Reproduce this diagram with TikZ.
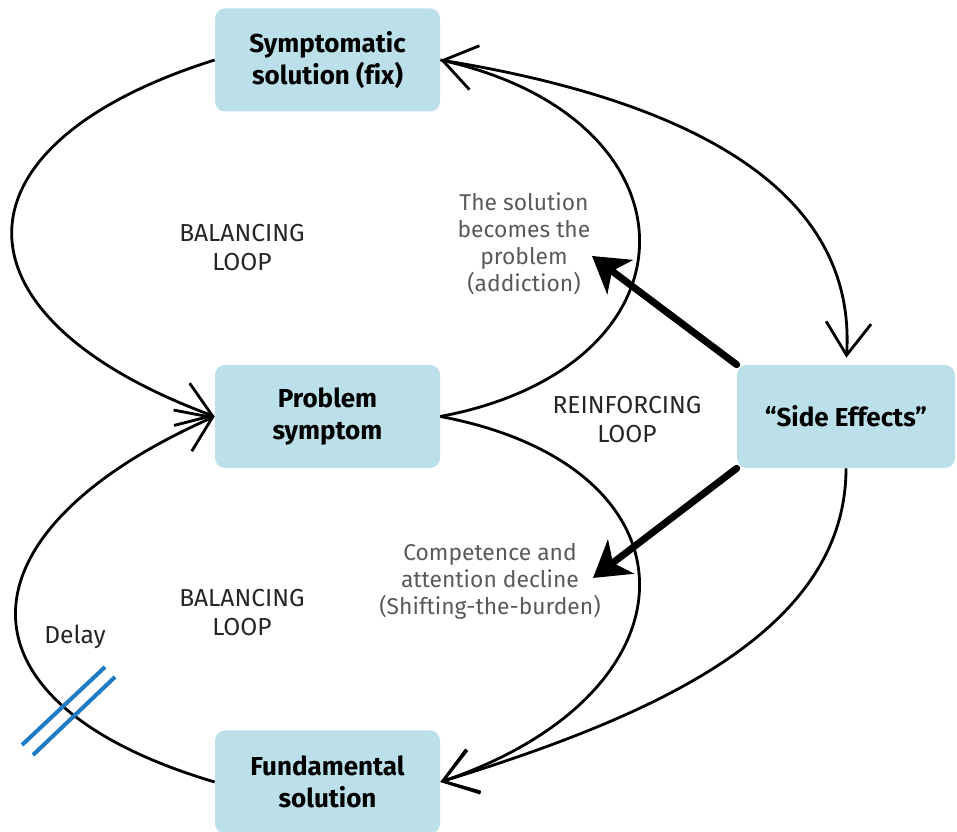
\documentclass[tikz,border=0pt]{standalone}
\usepackage{fontspec}
\setmainfont[Ligatures=NoCommon]{Fira Sans}
\usetikzlibrary{arrows.meta}
\definecolor{boxblue}{HTML}{BCE0EA}
\definecolor{delayblue}{HTML}{1F7BC4}
\definecolor{notegray}{HTML}{5A5A5A}

\begin{document}
\begin{tikzpicture}
  \tikzstyle{box}=[fill=boxblue,rounded corners=0.2cm,minimum width=4.5cm,minimum height=2.06cm,align=center,font=\fontsize{14.8}{18.2}\selectfont\bfseries]
  \tikzstyle{loop}=[align=center,text=black!85,font=\fontsize{14}{16.5}\selectfont]
  \tikzstyle{note}=[align=center,text=notegray,font=\fontsize{13}{15.4}\selectfont]
  \tikzstyle{link}=[line width=1.6pt,-{Straight Barb[length=0.65cm,width=0.9cm]}]
  \tikzstyle{push}=[line width=4pt,line cap=round,-{Stealth[length=0.7cm,width=0.85cm,inset=0.2cm]}]
  \tikzstyle{delay}=[line width=2.3pt,delayblue]
  \useasboundingbox (0,0) rectangle (19.14,16.64);

  \node[box] (fix)     at (6.55,15.44) {Symptomatic\\solution (fix)};
  \node[box] (symptom) at (6.55,8.31)  {Problem\\symptom};
  \node[box] (fund)    at (6.55,1.0)   {Fundamental\\solution};
  \node[box,minimum width=4.36cm] (side) at (16.92,8.31) {“Side Effects”};

  \node[loop] (bal1)  at (4.84,11.68) {BALANCING\\LOOP};
  \node[loop] (bal2)  at (4.84,4.38)  {BALANCING\\LOOP};
  \node[loop] (reinf) at (12.54,8.24) {REINFORCING\\LOOP};
  \node[loop] (delay) at (1.5,3.9)    {Delay};
  \node[note] (addict) at (10.48,11.76) {The solution\\becomes the\\problem\\(addiction)};
  \node[note] (burden) at (9.8,5.02)    {Competence and\\attention decline\\(Shifting-the-burden)};

  % loops
  \draw[link] (fix.west) .. controls +(-5.4,-1.7) and +(-5.4,2.0) .. (symptom.west);
  \draw[link] (fund.west) .. controls +(-5.4,1.6) and +(-5.2,-2.3) .. (symptom.west);
  \draw[link] (symptom.east) .. controls +(5.3,1.0) and +(5.3,-1.2) .. (fix.east);
  \draw[link] (symptom.east) .. controls +(5.3,-1.0) and +(5.3,1.8) .. (fund.east);
  \draw[link,shorten >=0.14cm] (fix.east) .. controls +(5.6,-0.9) and +(0.2,3.2) .. (side.north);
  \draw[link] (side.south) .. controls +(0,-3.3) and +(4.2,1.3) .. (fund.east);

  % delay mark
  \draw[delay] (0.44,1.74) -- (2.1,3.3);
  \draw[delay] (0.66,1.54) -- (2.3,3.1);

  % side effects
  \coordinate (addtip) at (11.84,11.52);
  \coordinate (burtip) at (11.86,5.08);
  \draw[push] (side.north west) -- (addtip);
  \draw[push] (side.south west) -- (burtip);
\end{tikzpicture}
\end{document}
